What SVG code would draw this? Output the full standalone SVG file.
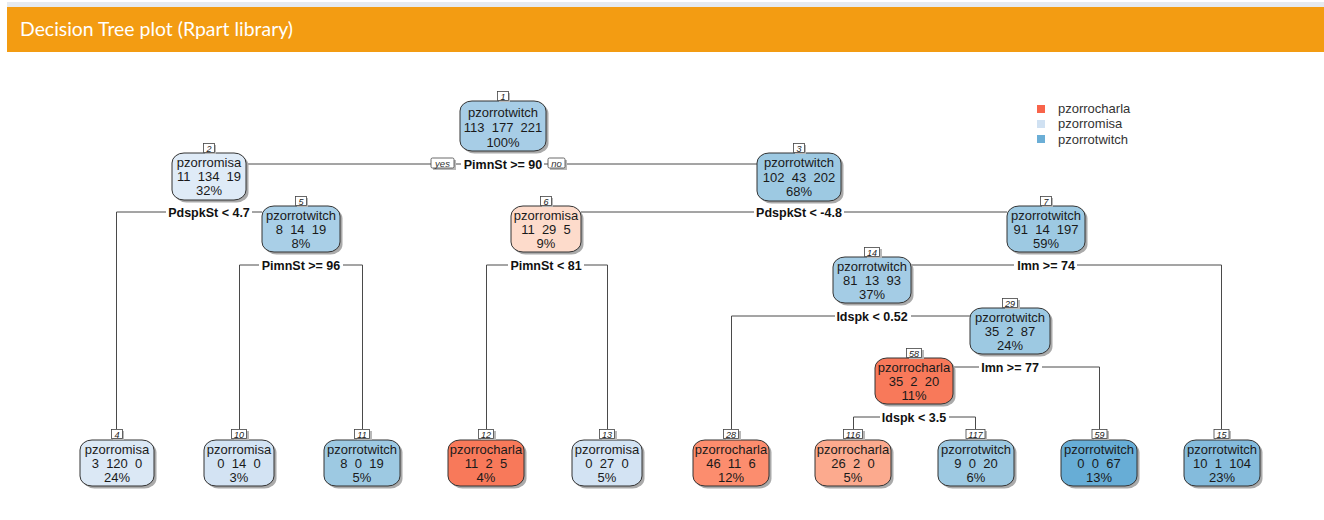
<svg xmlns="http://www.w3.org/2000/svg" width="1324" height="520" viewBox="0 0 1324 520">
<style>
.nt{font-family:"Liberation Sans",Arial,sans-serif;font-size:13px;fill:#1a1a1a;text-anchor:middle;white-space:pre}
.sp{font-family:"Liberation Sans",Arial,sans-serif;font-size:12.5px;font-weight:bold;fill:#111;text-anchor:middle}
.lb{font-family:"Liberation Sans",Arial,sans-serif;font-size:9px;font-style:italic;fill:#222;text-anchor:middle}
.lbb{fill:#fff;stroke:#444;stroke-width:0.8}
.lbs{fill:#b8b8b8}
.bx{stroke:#333;stroke-width:1}
.sh{fill:#aaaaaa}
.ln{stroke:#4a4a4a;stroke-width:1;fill:none}
.wb{fill:#fff}
.lg{font-family:"Liberation Sans",Arial,sans-serif;font-size:13px;fill:#333}
.yn{font-family:"Liberation Sans",Arial,sans-serif;font-size:9.5px;font-style:italic;fill:#333;text-anchor:middle}
.misa0{fill:#dfebf7}.misa1{fill:#d3e3f3}.misa2{fill:#dbe8f5}
.tw0{fill:#a7cde6}.tw1{fill:#9dc9e2}.tw2{fill:#a9cfe7}.tw3{fill:#a4cce5}.tw4{fill:#67add6}.tw5{fill:#84bbdc}
.ch0{fill:#f8795a}.ch1{fill:#fc8d6e}.ch2{fill:#fcaa8e}.ch3{fill:#fddbcb}
</style>

<!-- header -->
<rect x="7" y="2" width="1317" height="5" fill="#e6eaef"/>
<rect x="7" y="7" width="1317" height="45" fill="#f39c12"/>
<text x="20" y="36" font-family="Lato,'Open Sans',sans-serif" font-size="19" fill="#ffffff" textLength="273" lengthAdjust="spacingAndGlyphs">Decision Tree plot (Rpart library)</text>

<!-- legend -->
<g id="legend">
<rect x="1037" y="105" width="8" height="8" fill="#f8644a"/>
<rect x="1037" y="120" width="8" height="8" fill="#d0e1f2"/>
<rect x="1037" y="135" width="8" height="8" fill="#6baed6"/>
<text class="lg" x="1058" y="113">pzorrocharla</text>
<text class="lg" x="1058" y="128">pzorromisa</text>
<text class="lg" x="1058" y="144">pzorrotwitch</text>
</g>

<!-- connectors -->
<g id="connectors">
<line class="ln" x1="246" y1="164" x2="757" y2="164"/>
<rect class="wb" x="461" y="157" width="83" height="14"/>
<text class="sp" x="503" y="168.5">PimnSt &gt;= 90</text>
<rect class="lbs" x="433" y="160" width="23" height="10"/>
<rect class="lbb" x="431" y="158" width="23" height="10" rx="1.5"/>
<text class="yn" x="442.5" y="166.5">yes</text>
<rect class="lbs" x="550" y="160" width="17" height="10"/>
<rect class="lbb" x="548" y="158" width="17" height="10" rx="1.5"/>
<text class="yn" x="556.5" y="166.5">no</text>

<path class="ln" d="M262,212 H116.5 V429"/>
<rect class="wb" x="166" y="205" width="86" height="14"/>
<text class="sp" x="209" y="216.5">PdspkSt &lt; 4.7</text>

<path class="ln" d="M239.5,429 V265 H362.5 V429"/>
<rect class="wb" x="259" y="258" width="84" height="14"/>
<text class="sp" x="301" y="269.5">PimnSt &gt;= 96</text>

<path class="ln" d="M486.5,429 V265 H607.5 V429"/>
<rect class="wb" x="508" y="258" width="76" height="14"/>
<text class="sp" x="546" y="269.5">PimnSt &lt; 81</text>

<line class="ln" x1="581" y1="212" x2="1007" y2="212"/>
<rect class="wb" x="754" y="205" width="90" height="14"/>
<text class="sp" x="799" y="216.5">PdspkSt &lt; -4.8</text>

<path class="ln" d="M911,265 H1221.5 V429"/>
<rect class="wb" x="1014" y="258" width="63" height="14"/>
<text class="sp" x="1046" y="269.5">Imn &gt;= 74</text>

<path class="ln" d="M970,316 H731.5 V429"/>
<rect class="wb" x="835" y="309" width="76" height="14"/>
<text class="sp" x="872" y="320.5">Idspk &lt; 0.52</text>

<path class="ln" d="M953,367 H1099.5 V429"/>
<rect class="wb" x="979" y="360" width="63" height="14"/>
<text class="sp" x="1010" y="371.5">Imn &gt;= 77</text>

<path class="ln" d="M853.5,429 V417 H975.5 V429"/>
<rect class="wb" x="880" y="410" width="69" height="14"/>
<text class="sp" x="914" y="421.5">Idspk &lt; 3.5</text>
</g>

<!-- nodes -->
<g id="node1">
<rect class="sh" x="462.5" y="103.5" width="86" height="50" rx="12" ry="10"/>
<rect class="bx tw0" x="460" y="101" width="86" height="50" rx="12" ry="10"/>
<rect class="lbs" x="499" y="93" width="11" height="9"/>
<rect class="lbb" x="497.5" y="91.5" width="11" height="9"/>
<text class="lb" x="503" y="99.5">1</text>
<text class="nt" x="503" y="117">pzorrotwitch</text>
<text class="nt" x="503" y="132">113  177  221</text>
<text class="nt" x="503" y="147">100%</text>
</g>

<g id="node2">
<rect class="sh" x="174.5" y="155.5" width="74" height="47" rx="12" ry="10"/>
<rect class="bx misa0" x="172" y="153" width="74" height="47" rx="12" ry="10"/>
<rect class="lbs" x="205" y="145" width="11" height="9"/>
<rect class="lbb" x="203.5" y="143.5" width="11" height="9"/>
<text class="lb" x="209" y="151.5">2</text>
<text class="nt" x="209" y="167">pzorromisa</text>
<text class="nt" x="209" y="181">11  134  19</text>
<text class="nt" x="209" y="195">32%</text>
</g>

<g id="node3">
<rect class="sh" x="759.5" y="155.5" width="84" height="48" rx="12" ry="10"/>
<rect class="bx tw1" x="757" y="153" width="84" height="48" rx="12" ry="10"/>
<rect class="lbs" x="795" y="145" width="11" height="9"/>
<rect class="lbb" x="793.5" y="143.5" width="11" height="9"/>
<text class="lb" x="799" y="151.5">3</text>
<text class="nt" x="799" y="167">pzorrotwitch</text>
<text class="nt" x="799" y="182">102  43  202</text>
<text class="nt" x="799" y="196">68%</text>
</g>

<g id="node5">
<rect class="sh" x="264.5" y="208.5" width="78" height="46" rx="12" ry="10"/>
<rect class="bx tw2" x="262" y="206" width="78" height="46" rx="12" ry="10"/>
<rect class="lbs" x="297" y="198" width="11" height="9"/>
<rect class="lbb" x="295.5" y="196.5" width="11" height="9"/>
<text class="lb" x="301" y="204.5">5</text>
<text class="nt" x="301" y="220">pzorrotwitch</text>
<text class="nt" x="301" y="234">8  14  19</text>
<text class="nt" x="301" y="248">8%</text>
</g>

<g id="node6">
<rect class="sh" x="513.5" y="208.5" width="70" height="46" rx="12" ry="10"/>
<rect class="bx ch3" x="511" y="206" width="70" height="46" rx="12" ry="10"/>
<rect class="lbs" x="542" y="198" width="11" height="9"/>
<rect class="lbb" x="540.5" y="196.5" width="11" height="9"/>
<text class="lb" x="546" y="204.5">6</text>
<text class="nt" x="546" y="220">pzorromisa</text>
<text class="nt" x="546" y="234">11  29  5</text>
<text class="nt" x="546" y="248">9%</text>
</g>

<g id="node7">
<rect class="sh" x="1009.5" y="208.5" width="78" height="46" rx="12" ry="10"/>
<rect class="bx tw1" x="1007" y="206" width="78" height="46" rx="12" ry="10"/>
<rect class="lbs" x="1042" y="198" width="11" height="9"/>
<rect class="lbb" x="1040.5" y="196.5" width="11" height="9"/>
<text class="lb" x="1046" y="204.5">7</text>
<text class="nt" x="1046" y="220">pzorrotwitch</text>
<text class="nt" x="1046" y="234">91  14  197</text>
<text class="nt" x="1046" y="248">59%</text>
</g>

<g id="node14">
<rect class="sh" x="835.5" y="259.5" width="78" height="46" rx="12" ry="10"/>
<rect class="bx tw3" x="833" y="257" width="78" height="46" rx="12" ry="10"/>
<rect class="lbs" x="867" y="249" width="15" height="9"/>
<rect class="lbb" x="864.5" y="247.5" width="15" height="9"/>
<text class="lb" x="872" y="255.5">14</text>
<text class="nt" x="872" y="271">pzorrotwitch</text>
<text class="nt" x="872" y="285">81  13  93</text>
<text class="nt" x="872" y="299">37%</text>
</g>

<g id="node29">
<rect class="sh" x="972.5" y="310.5" width="80" height="46" rx="12" ry="10"/>
<rect class="bx tw1" x="970" y="308" width="80" height="46" rx="12" ry="10"/>
<rect class="lbs" x="1005" y="300" width="15" height="9"/>
<rect class="lbb" x="1002.5" y="298.5" width="15" height="9"/>
<text class="lb" x="1010" y="306.5">29</text>
<text class="nt" x="1010" y="322">pzorrotwitch</text>
<text class="nt" x="1010" y="336">35  2  87</text>
<text class="nt" x="1010" y="350">24%</text>
</g>

<g id="node58">
<rect class="sh" x="877.5" y="360.5" width="78" height="46" rx="12" ry="10"/>
<rect class="bx ch0" x="875" y="358" width="78" height="46" rx="12" ry="10"/>
<rect class="lbs" x="909" y="350" width="15" height="9"/>
<rect class="lbb" x="906.5" y="348.5" width="15" height="9"/>
<text class="lb" x="914" y="356.5">58</text>
<text class="nt" x="914" y="372">pzorrocharla</text>
<text class="nt" x="914" y="386">35  2  20</text>
<text class="nt" x="914" y="400">11%</text>
</g>

<!-- leaves -->
<g id="node4">
<rect class="sh" x="82.5" y="442.5" width="74" height="46" rx="12" ry="10"/>
<rect class="bx misa2" x="80" y="440" width="74" height="46" rx="12" ry="10"/>
<rect class="lbs" x="113" y="431" width="11" height="9"/>
<rect class="lbb" x="111.5" y="429.5" width="11" height="9"/>
<text class="lb" x="117" y="437.5">4</text>
<text class="nt" x="117" y="454">pzorromisa</text>
<text class="nt" x="117" y="468">3  120  0</text>
<text class="nt" x="117" y="482">24%</text>
</g>

<g id="node10">
<rect class="sh" x="206.5" y="442.5" width="70" height="46" rx="12" ry="10"/>
<rect class="bx misa1" x="204" y="440" width="70" height="46" rx="12" ry="10"/>
<rect class="lbs" x="234" y="431" width="15" height="9"/>
<rect class="lbb" x="231.5" y="429.5" width="15" height="9"/>
<text class="lb" x="239" y="437.5">10</text>
<text class="nt" x="239" y="454">pzorromisa</text>
<text class="nt" x="239" y="468">0  14  0</text>
<text class="nt" x="239" y="482">3%</text>
</g>

<g id="node11">
<rect class="sh" x="326.5" y="442.5" width="76" height="46" rx="12" ry="10"/>
<rect class="bx tw1" x="324" y="440" width="76" height="46" rx="12" ry="10"/>
<rect class="lbs" x="357" y="431" width="15" height="9"/>
<rect class="lbb" x="354.5" y="429.5" width="15" height="9"/>
<text class="lb" x="362" y="437.5">11</text>
<text class="nt" x="362" y="454">pzorrotwitch</text>
<text class="nt" x="362" y="468">8  0  19</text>
<text class="nt" x="362" y="482">5%</text>
</g>

<g id="node12">
<rect class="sh" x="450.5" y="442.5" width="76" height="46" rx="12" ry="10"/>
<rect class="bx ch0" x="448" y="440" width="76" height="46" rx="12" ry="10"/>
<rect class="lbs" x="481" y="431" width="15" height="9"/>
<rect class="lbb" x="478.5" y="429.5" width="15" height="9"/>
<text class="lb" x="486" y="437.5">12</text>
<text class="nt" x="486" y="454">pzorrocharla</text>
<text class="nt" x="486" y="468">11  2  5</text>
<text class="nt" x="486" y="482">4%</text>
</g>

<g id="node13">
<rect class="sh" x="574.5" y="442.5" width="70" height="46" rx="12" ry="10"/>
<rect class="bx misa1" x="572" y="440" width="70" height="46" rx="12" ry="10"/>
<rect class="lbs" x="602" y="431" width="15" height="9"/>
<rect class="lbb" x="599.5" y="429.5" width="15" height="9"/>
<text class="lb" x="607" y="437.5">13</text>
<text class="nt" x="607" y="454">pzorromisa</text>
<text class="nt" x="607" y="468">0  27  0</text>
<text class="nt" x="607" y="482">5%</text>
</g>

<g id="node28">
<rect class="sh" x="695.5" y="442.5" width="76" height="46" rx="12" ry="10"/>
<rect class="bx ch1" x="693" y="440" width="76" height="46" rx="12" ry="10"/>
<rect class="lbs" x="726" y="431" width="15" height="9"/>
<rect class="lbb" x="723.5" y="429.5" width="15" height="9"/>
<text class="lb" x="731" y="437.5">28</text>
<text class="nt" x="731" y="454">pzorrocharla</text>
<text class="nt" x="731" y="468">46  11  6</text>
<text class="nt" x="731" y="482">12%</text>
</g>

<g id="node116">
<rect class="sh" x="817.5" y="442.5" width="76" height="46" rx="12" ry="10"/>
<rect class="bx ch2" x="815" y="440" width="76" height="46" rx="12" ry="10"/>
<rect class="lbs" x="846" y="431" width="19" height="9"/>
<rect class="lbb" x="843.5" y="429.5" width="19" height="9"/>
<text class="lb" x="853" y="437.5">116</text>
<text class="nt" x="853" y="454">pzorrocharla</text>
<text class="nt" x="853" y="468">26  2  0</text>
<text class="nt" x="853" y="482">5%</text>
</g>

<g id="node117">
<rect class="sh" x="940.5" y="442.5" width="76" height="46" rx="12" ry="10"/>
<rect class="bx tw1" x="938" y="440" width="76" height="46" rx="12" ry="10"/>
<rect class="lbs" x="968" y="431" width="19" height="9"/>
<rect class="lbb" x="966" y="429.5" width="19" height="9"/>
<text class="lb" x="975.5" y="437.5">117</text>
<text class="nt" x="976" y="454">pzorrotwitch</text>
<text class="nt" x="976" y="468">9  0  20</text>
<text class="nt" x="976" y="482">6%</text>
</g>

<g id="node59">
<rect class="sh" x="1063.5" y="442.5" width="76" height="46" rx="12" ry="10"/>
<rect class="bx tw4" x="1061" y="440" width="76" height="46" rx="12" ry="10"/>
<rect class="lbs" x="1094" y="431" width="15" height="9"/>
<rect class="lbb" x="1092" y="429.5" width="15" height="9"/>
<text class="lb" x="1099.5" y="437.5">59</text>
<text class="nt" x="1099" y="454">pzorrotwitch</text>
<text class="nt" x="1099" y="468">0  0  67</text>
<text class="nt" x="1099" y="482">13%</text>
</g>

<g id="node15">
<rect class="sh" x="1186.5" y="442.5" width="76" height="46" rx="12" ry="10"/>
<rect class="bx tw5" x="1184" y="440" width="76" height="46" rx="12" ry="10"/>
<rect class="lbs" x="1216" y="431" width="15" height="9"/>
<rect class="lbb" x="1214" y="429.5" width="15" height="9"/>
<text class="lb" x="1221.5" y="437.5">15</text>
<text class="nt" x="1222" y="454">pzorrotwitch</text>
<text class="nt" x="1222" y="468">10  1  104</text>
<text class="nt" x="1222" y="482">23%</text>
</g>
</svg>
